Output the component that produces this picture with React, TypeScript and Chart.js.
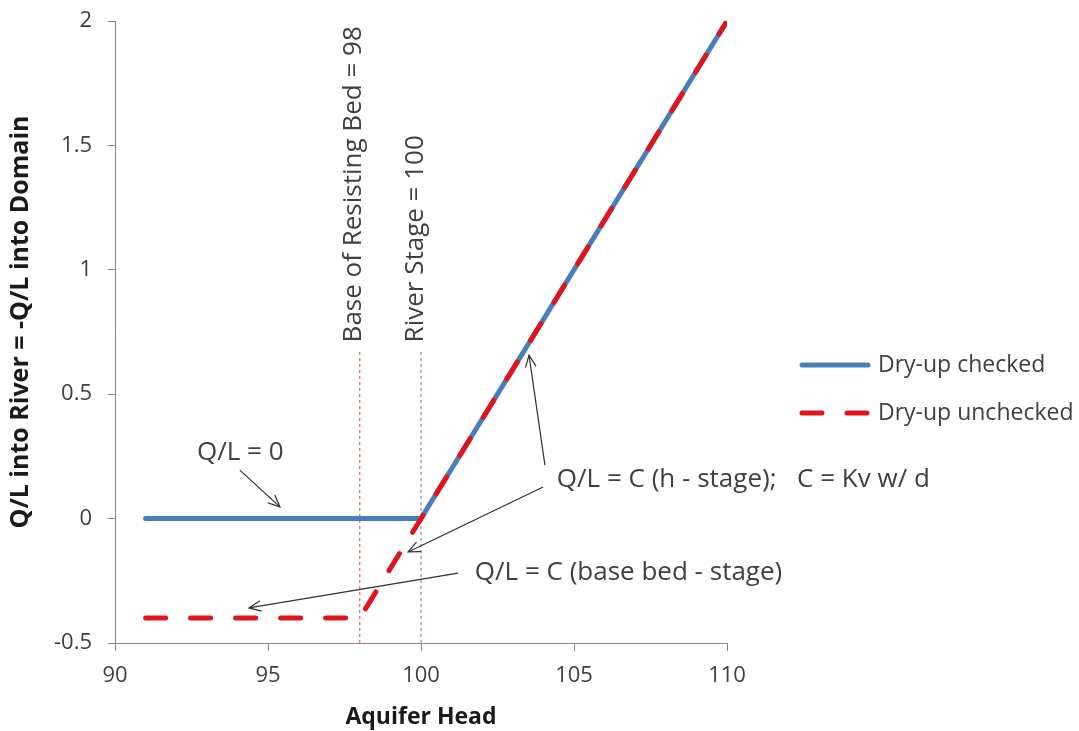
import React, { useEffect, useRef } from "react";
import { Chart, registerables } from "chart.js";

Chart.register(...registerables);

// ---- data ----
const checkedX = [91, 100, 110];
const checkedY = [0, 0, 2];
const uncheckedX = [91, 98, 110];
const uncheckedY = [-0.4, -0.4, 2];
const bedX = [98, 98];
const stageX = [100, 100];
const refLineY = [-0.5, 0.68];

const seriesNames = ["Dry-up checked", "Dry-up unchecked"];
const xTitle = "Aquifer Head";
const yTitle = "Q/L into River = -Q/L into Domain";
const bedLabel = "Base of Resisting Bed = 98";
const stageLabel = "River Stage = 100";

// annotation texts (anchor in data units: left edge, vertical centre)
const noteTexts = ["Q/L = 0", "Q/L = C (h - stage);", "C = Kv w/ d", "Q/L = C (base bed - stage)"];
const noteX = [92.68, 104.44, 112.29, 101.76];
const noteY = [0.264, 0.155, 0.155, -0.219];
// arrows: from -> to (data units), head at "to"
const arrowFromX = [94.08, 104.05, 103.99, 101.21];
const arrowFromY = [0.195, 0.215, 0.127, -0.219];
const arrowToX = [95.39, 103.53, 99.58, 94.38];
const arrowToY = [0.047, 0.657, -0.134, -0.359];

const BLUE = "#4A7EBB";
const RED = "#E0141C";
const FONT = "'Open Sans', sans-serif";

const toPts = (xs: number[], ys: number[]) => xs.map((x, i) => ({ x, y: ys[i] }));

export default function App() {
  const ref = useRef<HTMLCanvasElement>(null);

  useEffect(() => {
    if (!ref.current) return;

    const drawArrow = (ctx: CanvasRenderingContext2D, x1: number, y1: number, x2: number, y2: number) => {
      ctx.beginPath();
      ctx.moveTo(x1, y1);
      ctx.lineTo(x2, y2);
      ctx.stroke();
      const a = Math.atan2(y1 - y2, x1 - x2);
      const len = 13;
      const spread = 0.42;
      ctx.beginPath();
      ctx.moveTo(x2 + len * Math.cos(a + spread), y2 + len * Math.sin(a + spread));
      ctx.lineTo(x2, y2);
      ctx.lineTo(x2 + len * Math.cos(a - spread), y2 + len * Math.sin(a - spread));
      ctx.stroke();
    };

    const overlay = {
      id: "overlay",
      afterDraw(chart: any) {
        const ctx: CanvasRenderingContext2D = chart.ctx;
        const xs = chart.scales.x;
        const ys = chart.scales.y;
        const ca = chart.chartArea;
        ctx.save();
        ctx.fillStyle = "#1a1a1a";

        // axis titles
        ctx.font = `bold 23px ${FONT}`;
        ctx.textAlign = "center";
        ctx.textBaseline = "middle";
        ctx.fillText(xTitle, (ca.left + ca.right) / 2, 717);
        ctx.font = `bold 25px ${FONT}`;
        ctx.save();
        ctx.translate(21, 322);
        ctx.rotate(-Math.PI / 2);
        ctx.fillText(yTitle, 0, 0);
        ctx.restore();

        // rotated reference labels
        ctx.fillStyle = "#404040";
        ctx.font = `26px ${FONT}`;
        ctx.textAlign = "left";
        const labelBottom = ys.getPixelForValue(refLineY[1]) - 7;
        ctx.save();
        ctx.translate(xs.getPixelForValue(bedX[0]) - 6, labelBottom);
        ctx.rotate(-Math.PI / 2);
        ctx.fillText(bedLabel, 0, 0);
        ctx.restore();
        ctx.save();
        ctx.translate(xs.getPixelForValue(stageX[0]) - 5, labelBottom);
        ctx.rotate(-Math.PI / 2);
        ctx.fillText(stageLabel, 0, 0);
        ctx.restore();

        // notes
        ctx.fillStyle = "#404040";
        ctx.font = `26px ${FONT}`;
        ctx.textAlign = "left";
        ctx.textBaseline = "middle";
        noteTexts.forEach((t, i) => {
          ctx.fillText(t, xs.getPixelForValue(noteX[i]), ys.getPixelForValue(noteY[i]));
        });

        // arrows
        ctx.strokeStyle = "#303030";
        ctx.lineWidth = 1.2;
        arrowFromX.forEach((_, i) => {
          drawArrow(
            ctx,
            xs.getPixelForValue(arrowFromX[i]),
            ys.getPixelForValue(arrowFromY[i]),
            xs.getPixelForValue(arrowToX[i]),
            ys.getPixelForValue(arrowToY[i])
          );
        });

        // legend
        const lx = 802;
        const ly = [365, 413];
        ctx.lineWidth = 5;
        ctx.lineCap = "round";
        ctx.strokeStyle = BLUE;
        ctx.beginPath();
        ctx.moveTo(lx, ly[0]);
        ctx.lineTo(lx + 66, ly[0]);
        ctx.stroke();
        ctx.strokeStyle = RED;
        ctx.setLineDash([20, 25]);
        ctx.beginPath();
        ctx.moveTo(lx, ly[1]);
        ctx.lineTo(lx + 66, ly[1]);
        ctx.stroke();
        ctx.setLineDash([]);
        ctx.fillStyle = "#404040";
        ctx.font = `23px ${FONT}`;
        ctx.textAlign = "left";
        ctx.textBaseline = "middle";
        ctx.fillText(seriesNames[0], 878, ly[0]);
        ctx.fillText(seriesNames[1], 878, ly[1]);

        ctx.restore();
      },
    };

    const chart = new Chart(ref.current, {
      type: "scatter",
      data: {
        datasets: [
          {
            label: seriesNames[1],
            data: toPts(uncheckedX, uncheckedY),
            showLine: true,
            borderColor: RED,
            borderWidth: 5,
            borderDash: [20, 25],
            borderCapStyle: "round",
            pointRadius: 0,
            order: 0,
          },
          {
            label: seriesNames[0],
            data: toPts(checkedX, checkedY),
            showLine: true,
            borderColor: BLUE,
            borderWidth: 5,
            borderCapStyle: "round",
            pointRadius: 0,
            order: 1,
          },
          {
            label: "bed",
            data: toPts(bedX, refLineY),
            showLine: true,
            borderColor: "#E03A3A",
            borderWidth: 1,
            borderDash: [3, 3],
            pointRadius: 0,
            order: 2,
          },
          {
            label: "stage",
            data: toPts(stageX, refLineY),
            showLine: true,
            borderColor: "#5A7FBF",
            borderWidth: 1,
            borderDash: [3, 3],
            pointRadius: 0,
            order: 3,
          },
        ],
      },
      options: {
        animation: false,
        responsive: false,
        devicePixelRatio: 1,
        layout: { padding: { left: 0, right: 352, top: 21, bottom: 0 } },
        plugins: { legend: { display: false }, tooltip: { enabled: false } },
        scales: {
          x: {
            type: "linear",
            min: 90,
            max: 110,
            afterFit: (s: any) => {
              s.height = 88;
              s.paddingLeft = 0;
              s.paddingRight = 0;
            },
            ticks: { stepSize: 5, color: "#404040", font: { family: FONT, size: 22 }, padding: 12 },
            grid: { drawOnChartArea: false, drawTicks: true, tickLength: 8, color: "#868686" },
            border: { display: true, color: "#868686", width: 1 },
          },
          y: {
            type: "linear",
            min: -0.5,
            max: 2,
            afterFit: (s: any) => {
              s.width = 115;
              s.paddingTop = 0;
              s.paddingBottom = 0;
            },
            ticks: {
              stepSize: 0.5,
              color: "#404040",
              font: { family: FONT, size: 22 },
              padding: 16,
              callback: (v: any) => String(Math.round(Number(v) * 10) / 10),
            },
            grid: { drawOnChartArea: false, drawTicks: true, tickLength: 7, color: "#868686" },
            border: { display: true, color: "#868686", width: 1 },
          },
        },
      },
      plugins: [overlay],
    });
    return () => chart.destroy();
  }, []);

  return (
    <div style={{ position: "fixed", left: 0, top: 0, width: 1079, height: 731, background: "#fff" }}>
      <canvas ref={ref} width={1079} height={731} />
    </div>
  );
}
